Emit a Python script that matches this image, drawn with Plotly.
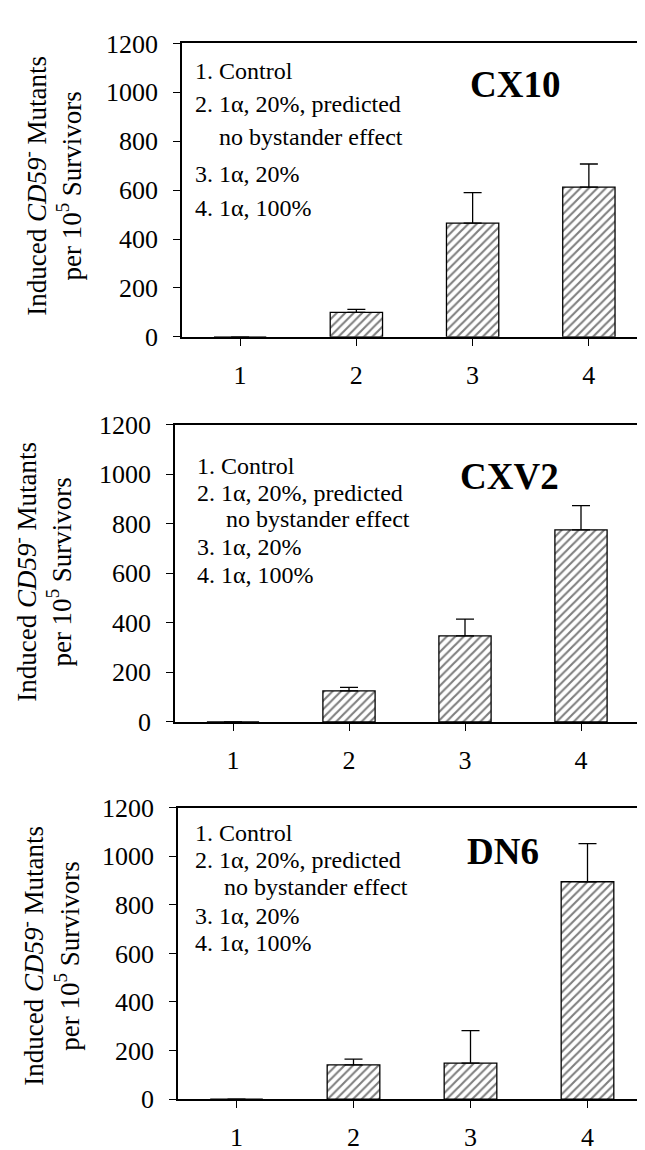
import plotly.graph_objects as go

# ---------------- data ----------------
categories = [1, 2, 3, 4]
tick_labels = ["1", "2", "3", "4"]
y_ticks = [0, 200, 400, 600, 800, 1000, 1200]

panel_names = ["CX10", "CXV2", "DN6"]
cx10_means = [0, 100, 465, 612]
cx10_err = [0, 12, 125, 95]
cxv2_means = [0, 125, 347, 775]
cxv2_err = [0, 14, 68, 98]
dn6_means = [0, 141, 148, 895]
dn6_err = [0, 24, 134, 157]

legend_lines = ["1. Control", "2. 1\u03b1, 20%, predicted", "no bystander effect",
                "3. 1\u03b1, 20%", "4. 1\u03b1, 100%"]
y_title = "Induced <i>CD59</i><sup>-</sup> Mutants<br>per 10<sup>5</sup> Survivors"

# ---------------- layout helpers ----------------
W, H = 645, 1150
FONT = "Liberation Serif"

def px(x):
    return x / W

def py(y):
    return 1 - y / H

# panel geometry in pixels: (left, right, top, bottom)
panels = [
    dict(box=(174, 639, 22, 323), means=cx10_means, err=cx10_err,
         title_xy=(507, 64), ytitle_xy=(44, 168),
         leg_x=185, leg_indent=209, leg_y=[50, 84, 118, 156, 191]),
    dict(box=(167, 631, 413, 718), means=cxv2_means, err=cxv2_err,
         title_xy=(501, 466), ytitle_xy=(34, 564),
         leg_x=187, leg_indent=216, leg_y=[455, 483, 510, 539, 567]),
    dict(box=(170, 638, 806, 1105), means=dn6_means, err=dn6_err,
         title_xy=(495, 851), ytitle_xy=(42, 958),
         leg_x=185, leg_indent=214, leg_y=[832, 860, 887, 917, 945]),
]

fig = go.Figure()
annotations = []
layout_axes = {}

for i, (name, p) in enumerate(zip(panel_names, panels)):
    n = "" if i == 0 else str(i + 1)
    xa, ya = "x" + n, "y" + n
    l, r, t, b = p["box"]
    fig.add_trace(go.Bar(
        x=categories, y=p["means"], width=0.45,
        xaxis=xa, yaxis=ya,
        marker=dict(color="white", line=dict(color="black", width=1.3),
                    pattern=dict(shape="/", fgcolor="black", bgcolor="white",
                                 size=6, solidity=0.35)),
        error_y=dict(type="data", symmetric=False, array=p["err"],
                     arrayminus=[0] * len(p["err"]),
                     color="black", thickness=1.3, width=9),
        showlegend=False,
    ))
    layout_axes["xaxis" + n] = dict(
        domain=[px(l), px(r)], anchor=ya, range=[0.5, 4.5],
        tickmode="array", tickvals=categories, ticktext=tick_labels,
        showgrid=False, zeroline=False, showline=True, linecolor="black",
        linewidth=1.5, mirror=True, ticks="outside", ticklen=7,
        tickwidth=1.3, tickcolor="black", ticklabelstandoff=7,
        tickfont=dict(family=FONT, size=26, color="black"),
    )
    layout_axes["yaxis" + n] = dict(
        domain=[py(b), py(t)], anchor=xa, range=[0, 1200],
        tickmode="array", tickvals=y_ticks,
        showgrid=False, zeroline=False, showline=True, linecolor="black",
        linewidth=1.5, mirror=True, ticks="outside", ticklen=7,
        tickwidth=1.3, tickcolor="black", ticklabelstandoff=10,
        tickfont=dict(family=FONT, size=26, color="black"),
    )
    # panel title
    annotations.append(dict(
        text="<b>%s</b>" % name, x=px(p["title_xy"][0]), y=py(p["title_xy"][1]),
        xref="paper", yref="paper", xanchor="center", yanchor="middle",
        showarrow=False, font=dict(family=FONT, size=37, color="black")))
    # y-axis title
    annotations.append(dict(
        text=y_title, x=px(p["ytitle_xy"][0]), y=py(p["ytitle_xy"][1]),
        xref="paper", yref="paper", xanchor="center", yanchor="middle",
        textangle=-90, showarrow=False,
        font=dict(family=FONT, size=27, color="black")))
    # in-plot key
    for j, line in enumerate(legend_lines):
        xx = p["leg_indent"] if j == 2 else p["leg_x"]
        annotations.append(dict(
            text=line, x=px(xx), y=py(p["leg_y"][j]),
            xref="paper", yref="paper", xanchor="left", yanchor="middle",
            showarrow=False, font=dict(family=FONT, size=24, color="black")))

fig.update_layout(
    width=W, height=H,
    margin=dict(l=0, r=0, t=0, b=0),
    paper_bgcolor="white", plot_bgcolor="white",
    annotations=annotations,
    **layout_axes,
)

fig.write_html("out.html")
